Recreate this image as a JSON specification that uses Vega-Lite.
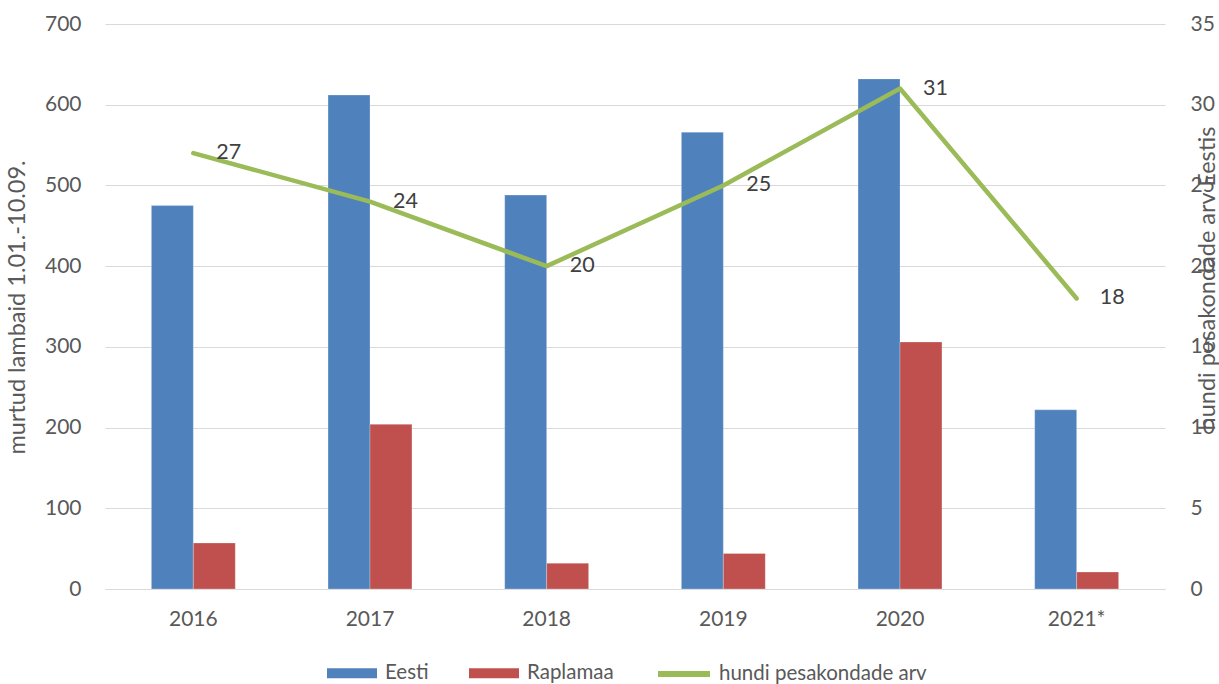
{
  "$schema": "https://vega.github.io/schema/vega-lite/v6.json",
  "width": 1060,
  "height": 565,
  "autosize": {"type": "none"},
  "padding": {"left": 105, "top": 24, "right": 54, "bottom": 95},
  "background": "white",
  "config": {
    "font": "Lato",
    "view": {"stroke": null},
    "axis": {"labelFont": "Lato", "titleFont": "Lato", "labelColor": "#595959", "titleColor": "#595959", "labelFontSize": 21, "titleFontSize": 23.5, "titleFontWeight": "normal"},
    "legend": {"labelFont": "Lato", "labelFontSize": 20.5, "labelColor": "#595959", "labelLimit": 0, "padding": 0}
  },
  "data": {
    "values": [
      {"year": "2016", "series": "Eesti", "value": 475},
      {"year": "2016", "series": "Raplamaa", "value": 57},
      {"year": "2016", "series": "hundi pesakondade arv", "value": 27},
      {"year": "2017", "series": "Eesti", "value": 612},
      {"year": "2017", "series": "Raplamaa", "value": 204},
      {"year": "2017", "series": "hundi pesakondade arv", "value": 24},
      {"year": "2018", "series": "Eesti", "value": 488},
      {"year": "2018", "series": "Raplamaa", "value": 32},
      {"year": "2018", "series": "hundi pesakondade arv", "value": 20},
      {"year": "2019", "series": "Eesti", "value": 566},
      {"year": "2019", "series": "Raplamaa", "value": 44},
      {"year": "2019", "series": "hundi pesakondade arv", "value": 25},
      {"year": "2020", "series": "Eesti", "value": 632},
      {"year": "2020", "series": "Raplamaa", "value": 306},
      {"year": "2020", "series": "hundi pesakondade arv", "value": 31},
      {"year": "2021*", "series": "Eesti", "value": 222},
      {"year": "2021*", "series": "Raplamaa", "value": 21},
      {"year": "2021*", "series": "hundi pesakondade arv", "value": 18}
    ]
  },
  "encoding": {
    "x": {
      "field": "year", "type": "nominal", "sort": null,
      "scale": {"paddingInner": 0.525, "paddingOuter": 0.2625},
      "axis": {"title": null, "labelAngle": 0, "ticks": false, "domainColor": "#D9D9D9", "domainWidth": 1, "labelPadding": 19, "grid": false}
    }
  },
  "layer": [
    {
      "transform": [{"filter": "datum.series !== 'hundi pesakondade arv'"}],
      "mark": {"type": "bar", "stroke": "white", "strokeWidth": 0.5, "strokeOpacity": 0.5},
      "encoding": {
        "xOffset": {"field": "series", "type": "nominal", "sort": ["Eesti", "Raplamaa"], "scale": {"paddingInner": 0, "paddingOuter": 0}},
        "y": {
          "field": "value", "type": "quantitative",
          "scale": {"domain": [0, 700], "nice": false},
          "axis": {"title": "murtud lambaid 1.01.-10.09.", "values": [0, 100, 200, 300, 400, 500, 600, 700], "domain": false, "ticks": false, "labelPadding": 24, "gridColor": "#D9D9D9", "gridWidth": 1, "titleAngle": 270, "titleX": -88, "titleY": 283, "titleBaseline": "middle", "titleAlign": "center"}
        },
        "fill": {
          "field": "series", "type": "nominal",
          "scale": {"domain": ["Eesti", "Raplamaa"], "range": ["#4F81BD", "#C0504D"]},
          "legend": {
            "title": null, "orient": "none", "direction": "horizontal", "columns": 2,
            "legendX": 222, "legendY": 624,
            "symbolType": "M-1,-0.2H1V0.2H-1Z",
            "symbolSize": 2500, "labelOffset": 8, "columnPadding": 40,
            "symbolStrokeWidth": 0
          }
        }
      }
    },
    {
      "transform": [{"filter": "datum.series === 'hundi pesakondade arv'"}],
      "encoding": {
        "y": {
          "field": "value", "type": "quantitative",
          "scale": {"domain": [0, 35], "nice": false},
          "axis": {"orient": "right", "title": "hundi pesakondade arv Eestis", "values": [0, 5, 10, 15, 20, 25, 30, 35], "domain": false, "ticks": false, "grid": false, "labelPadding": 25, "titleAngle": 270, "titleX": 42, "titleY": 254, "titleBaseline": "middle", "titleAlign": "center"}
        }
      },
      "layer": [
        {
          "mark": {"type": "line", "strokeWidth": 4.5, "strokeCap": "round", "strokeJoin": "round"},
          "encoding": {
            "stroke": {
              "field": "series", "type": "nominal",
              "scale": {"domain": ["hundi pesakondade arv"], "range": ["#9BBB59"]},
              "legend": {
                "title": null, "orient": "none", "direction": "horizontal",
                "legendX": 550, "legendY": 621,
                "symbolType": "stroke", "symbolSize": 2704, "symbolStrokeWidth": 6,
                "labelOffset": 6
              }
            }
          }
        },
        {
          "mark": {"type": "text", "align": "left", "baseline": "middle", "dx": 23, "fontSize": 21.5, "font": "Lato", "color": "#404040"},
          "encoding": {"text": {"field": "value", "type": "quantitative"}}
        }
      ]
    }
  ],
  "resolve": {"scale": {"y": "independent"}}
}
